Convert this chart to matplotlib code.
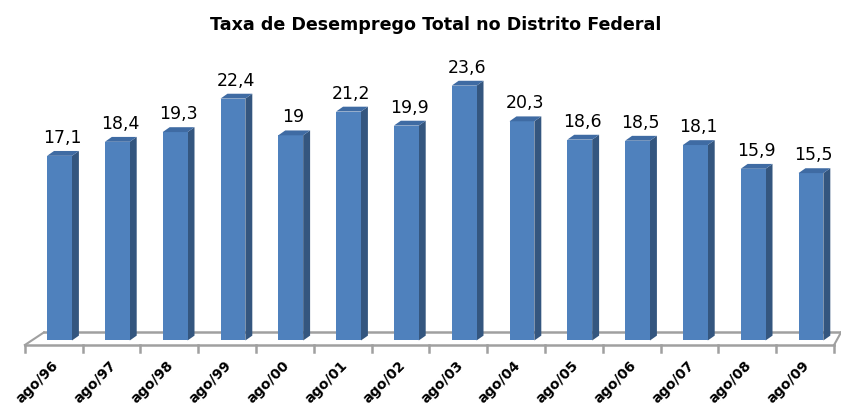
import matplotlib
matplotlib.use('Agg')
import matplotlib.pyplot as plt
from matplotlib.patches import Polygon
import numpy as np

# data
categories = ['ago/96', 'ago/97', 'ago/98', 'ago/99', 'ago/00', 'ago/01', 'ago/02',
              'ago/03', 'ago/04', 'ago/05', 'ago/06', 'ago/07', 'ago/08', 'ago/09']
values = [17.1, 18.4, 19.3, 22.4, 19.0, 21.2, 19.9, 23.6, 20.3, 18.6, 18.5, 18.1, 15.9, 15.5]
value_labels = ['17,1', '18,4', '19,3', '22,4', '19', '21,2', '19,9',
                '23,6', '20,3', '18,6', '18,5', '18,1', '15,9', '15,5']
title = 'Taxa de Desemprego Total no Distrito Federal'

front_color = '#4f81bd'
side_color = '#34567f'
top_color = '#3f6ba3'
floor_color = '#a0a0a0'

fig = plt.figure(figsize=(8.41, 4.07), dpi=100)
ax = fig.add_axes([0, 0, 1, 1])
# one category step ~57.8 px, one unit ~10.8 px
ax.set_xlim(-1.03, 13.52)
ax.set_ylim(-6.16, 31.53)
ax.axis('off')

x = np.arange(len(values))
width = 0.43
dx = 0.12   # depth offset of 3d bars
dy = 0.45

# floor
left = x[0] - 0.6
right = x[-1] + 0.4
ax.plot([left, right], [-0.42, -0.42], color=floor_color, lw=1.8, zorder=1)
ax.plot([left + 0.33, right + 0.12], [0.75, 0.75], color=floor_color, lw=1.8, zorder=1)
ax.plot([left, left + 0.33], [-0.42, 0.75], color=floor_color, lw=1.5, zorder=1)
ax.plot([right, right + 0.12], [-0.42, 0.75], color=floor_color, lw=1.5, zorder=1)
for t in np.arange(len(values) + 1) - 0.6:
    ax.plot([t, t], [-0.42, -1.1], color=floor_color, lw=1.8, zorder=1)

# bars
ax.bar(x, values, width=width, color=front_color, zorder=3, linewidth=0)
for xi, v in zip(x, values):
    x0 = xi - width / 2
    x1 = xi + width / 2
    side = Polygon([(x1, 0), (x1 + dx, dy), (x1 + dx, v + dy), (x1, v)],
                   closed=True, facecolor=side_color, edgecolor='none', zorder=2)
    top = Polygon([(x0, v), (x0 + dx, v + dy), (x1 + dx, v + dy), (x1, v)],
                  closed=True, facecolor=top_color, edgecolor='none', zorder=3)
    ax.add_patch(side)
    ax.add_patch(top)

# value labels
for xi, v, lab in zip(x, values, value_labels):
    ax.text(xi + 0.05, v + 1.2, lab, ha='center', va='baseline', fontsize=12.5, color='black')

# category labels
for xi, lab in zip(x, categories):
    ax.text(xi - 0.06, -2.1, lab, ha='right', va='center', rotation=45,
            rotation_mode='anchor', fontsize=10, fontweight='bold', color='black')

ax.text(6.5, 29.2, title, ha='center', va='center', fontsize=12.6, fontweight='bold')

fig.savefig('out.png', dpi=100)
